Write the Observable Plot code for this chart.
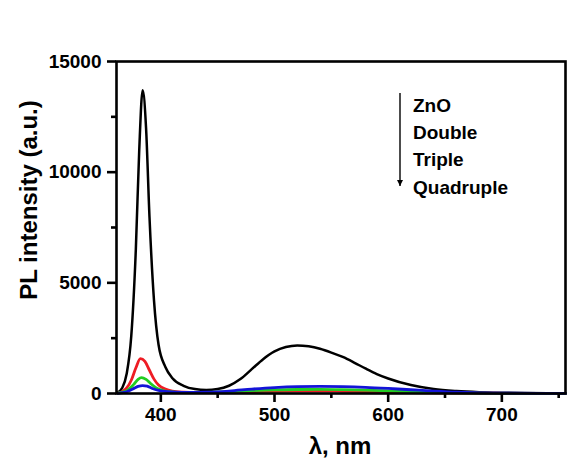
<!DOCTYPE html>
<html>
<head>
<meta charset="utf-8">
<script src="https://cdn.jsdelivr.net/npm/d3@7"></script>
<script src="https://cdn.jsdelivr.net/npm/@observablehq/plot@0.6"></script>
<style>
  html, body { margin: 0; padding: 0; background: #fff; }
  #chart { width: 568px; height: 465px; }
  svg { font-family: Arial, "Liberation Sans", sans-serif; }
</style>
</head>
<body>
<div id="chart"></div>
<script>
// ---- Data ----
const seriesNames = ["ZnO", "Double", "Triple", "Quadruple"];
const seriesColors = ["#000000", "#ee1c24", "#22cc22", "#1414d8"];

const wlZnO = [362, 366, 370, 374, 378, 381, 384, 387, 390, 394, 398, 404, 410, 420, 430, 440, 450, 460, 470, 480, 490, 500, 510, 520, 530, 540, 550, 560, 570, 580, 590, 600, 620, 640, 660, 680, 700, 720, 740, 756];
const iZnO  = [50, 250, 900, 2600, 6500, 11000, 13700, 12000, 8000, 4200, 2200, 1200, 700, 350, 200, 160, 200, 350, 650, 1100, 1550, 1900, 2100, 2170, 2130, 2020, 1850, 1650, 1400, 1130, 880, 680, 380, 200, 110, 60, 35, 20, 10, 5];

const wlDouble = [362, 366, 370, 374, 378, 382, 386, 390, 394, 398, 404, 410, 420, 430, 440, 450, 460, 480, 500, 520, 540, 560, 580, 600, 620, 640, 660, 700, 756];
const iDouble  = [20, 80, 250, 600, 1150, 1580, 1450, 1050, 650, 380, 200, 110, 60, 40, 40, 50, 60, 80, 100, 110, 110, 100, 85, 65, 45, 30, 20, 10, 5];

const wlTriple = [362, 370, 376, 380, 383, 387, 391, 396, 402, 410, 420, 440, 460, 480, 500, 520, 540, 560, 580, 600, 620, 640, 660, 700, 756];
const iTriple  = [15, 120, 400, 640, 720, 640, 450, 250, 130, 70, 45, 50, 80, 130, 165, 180, 185, 175, 155, 120, 85, 50, 25, 10, 5];

const wlQuad = [362, 370, 376, 380, 384, 388, 392, 398, 406, 420, 440, 460, 480, 500, 520, 540, 560, 580, 600, 620, 640, 660, 680, 700, 756];
const iQuad  = [10, 80, 220, 320, 360, 330, 240, 140, 80, 50, 60, 110, 200, 270, 310, 320, 310, 280, 230, 170, 110, 60, 30, 15, 5];

const xMajorTicks = [400, 500, 600, 700];
const xMinorTicks = [450, 550, 650, 750];
const yMajorTicks = [0, 5000, 10000, 15000];
const yMinorTicks = [2500, 7500, 12500];

// ---- Build table ----
const wls = [wlZnO, wlDouble, wlTriple, wlQuad];
const ints = [iZnO, iDouble, iTriple, iQuad];
const rows = [];
seriesNames.forEach((name, k) => {
  wls[k].forEach((w, i) => rows.push({series: name, wl: w, I: ints[k][i]}));
});

const W = 568, H = 465;
const bold = "bold";
const axisW = 2.6;

const plot = Plot.plot({
  width: W,
  height: H,
  marginLeft: 116,
  marginRight: 3,
  marginTop: 61,
  marginBottom: 72,
  style: {background: "#fff", fontFamily: "Arial, 'Liberation Sans', sans-serif", overflow: "visible"},
  x: {domain: [361, 756]},
  y: {domain: [0, 15000]},
  color: {domain: seriesNames, range: seriesColors},
  marks: [
    Plot.line(rows, {
      x: "wl", y: "I", z: "series", stroke: "series",
      strokeWidth: d => d.series === "ZnO" ? 2.5 : 2.8,
      curve: "monotone-x"
    }),
    Plot.frame({stroke: "#000", strokeWidth: axisW}),
    Plot.axisX({ticks: xMajorTicks, tickSize: 9, tickPadding: 5, tickFormat: "d",
      fontSize: 19, fontWeight: bold, strokeWidth: axisW, label: null}),
    Plot.axisX({ticks: xMinorTicks, tickSize: 5, text: null, strokeWidth: axisW, label: null}),
    Plot.axisY({ticks: yMajorTicks, tickSize: 9, tickPadding: 6, tickFormat: "d",
      fontSize: 19, fontWeight: bold, strokeWidth: axisW, label: null}),
    Plot.axisY({ticks: yMinorTicks, tickSize: 5, text: null, strokeWidth: axisW, label: null})
  ]
});

document.getElementById("chart").appendChild(plot);

// ---- Axis titles and in-plot legend ----
const svg = d3.select(plot);
svg.append("text")
  .attr("transform", "translate(37,200) rotate(-90)")
  .attr("text-anchor", "middle")
  .attr("font-size", 24).attr("font-weight", "bold").attr("fill", "#000")
  .text("PL intensity (a.u.)");
svg.append("text")
  .attr("x", 340).attr("y", 454)
  .attr("text-anchor", "middle")
  .attr("font-size", 24).attr("font-weight", "bold").attr("fill", "#000")
  .text("λ, nm");

const defs = svg.append("defs");
defs.append("marker").attr("id", "arr").attr("viewBox", "0 0 10 10")
  .attr("refX", 10).attr("refY", 5).attr("markerWidth", 6).attr("markerHeight", 8)
  .attr("markerUnits", "userSpaceOnUse").attr("orient", "auto")
  .append("path").attr("d", "M0,0 L10,5 L0,10 Z").attr("fill", "#000");
svg.append("line")
  .attr("x1", 400).attr("y1", 93).attr("x2", 400).attr("y2", 186)
  .attr("stroke", "#000").attr("stroke-width", 1.4)
  .attr("marker-end", "url(#arr)");
seriesNames.forEach((name, i) => {
  svg.append("text")
    .attr("x", 413).attr("y", 105 + i * 27.3)
    .attr("dy", "0.35em")
    .attr("text-anchor", "start")
    .attr("font-size", 19).attr("font-weight", "bold").attr("fill", "#000")
    .text(name);
});
</script>
</body>
</html>
